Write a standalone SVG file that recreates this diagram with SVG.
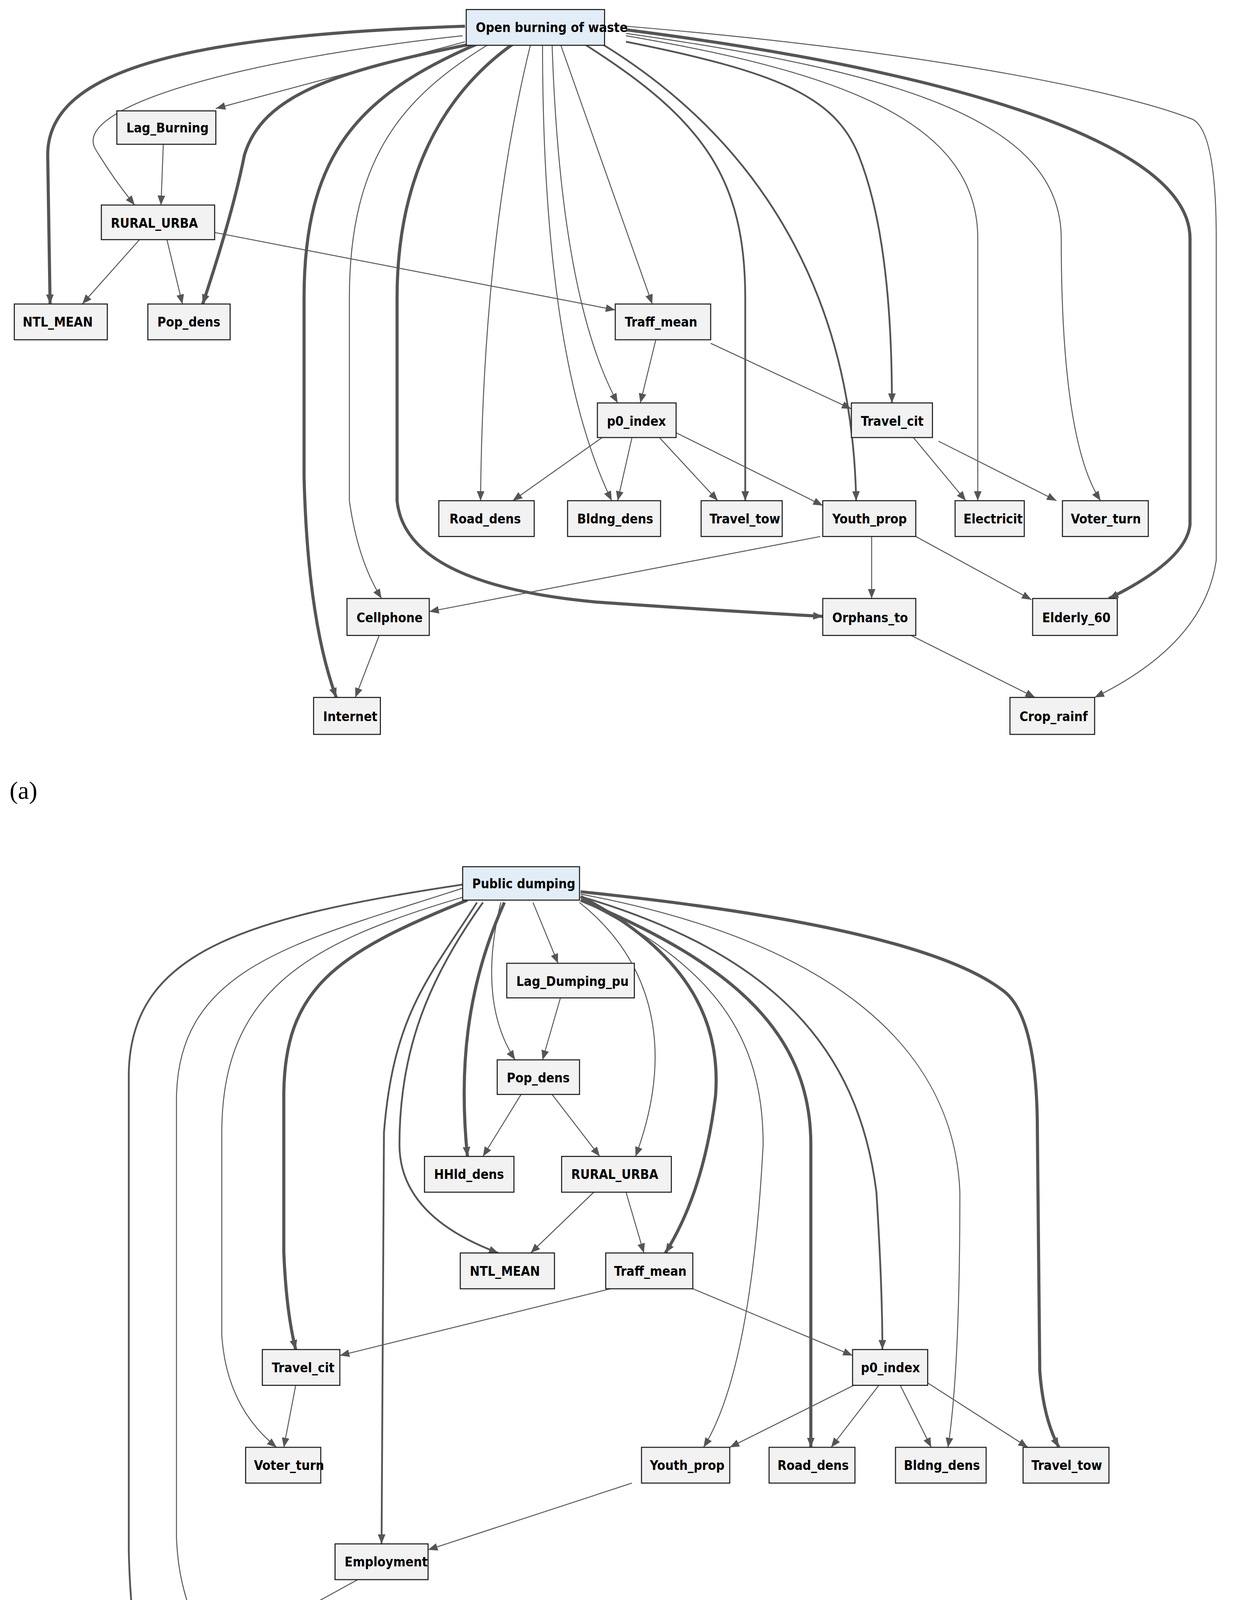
<svg xmlns="http://www.w3.org/2000/svg" width="3202" height="4779" viewBox="0 0 3202 4779">
<style>
.n rect{fill:#f2f2f2;stroke:#222;stroke-width:0.9}
.n.root rect{fill:#e2edf8}
.n text{font-family:"DejaVu Sans Condensed","DejaVu Sans",sans-serif;font-weight:bold;font-size:11px;fill:#000}
#edges path{fill:none;stroke:#555;stroke-width:0.8;marker-end:url(#ah)}
#edges path.m{stroke-width:1.5}
#edges path.t{stroke-width:2.6}
.lab{font-family:"Liberation Serif",serif;font-size:21px;fill:#000}
</style>
<defs>
<marker id="ah" viewBox="0 0 10 10" refX="10" refY="5" markerWidth="8" markerHeight="8" markerUnits="userSpaceOnUse" orient="auto"><path d="M0,1 L10,5 L0,9 z" fill="#555"/></marker>
</defs>
<rect width="3202" height="4779" fill="#fff"/>
<g transform="scale(3.052)">
<g id="edges">
<!-- (a) -->
<path class="t" d="M390,22 C150,30 40,60 40,130 L42,255"/>
<path d="M388,30 C200,50 60,90 80,125 Q95,150 113,172"/>
<path d="M390,35 L181,91"/>
<path class="t" d="M395,37 C280,60 220,80 205,130 Q195,180 170,255"/>
<path class="t" d="M400,37 C300,80 255,130 255,250 L255,400 Q258,520 282,585"/>
<path d="M410,37 C340,80 293,130 293,250 L293,420 Q300,470 320,502"/>
<path class="t" d="M430,37 C370,80 333,150 333,250 L333,420 Q340,490 500,505 Q600,512 690,517"/>
<path d="M445,37 Q405,200 403,420"/>
<path d="M455,37 Q455,300 513,420"/>
<path d="M463,37 Q470,250 518,338"/>
<path d="M470,37 Q510,150 547,255"/>
<path class="m" d="M490,37 C590,100 625,150 625,250 L625,420"/>
<path class="m" d="M505,37 C640,120 715,250 718,420"/>
<path class="m" d="M525,35 C650,60 700,80 720,130 Q748,200 748,338"/>
<path d="M525,30 C700,60 820,100 820,200 L820,420"/>
<path d="M525,28 C750,60 890,100 890,200 Q890,370 923,420"/>
<path class="t" d="M525,25 C800,60 998,120 998,200 L998,440 Q995,470 930,502"/>
<path d="M525,22 C800,45 950,80 1000,100 Q1020,110 1020,200 L1020,470 Q1010,540 918,585"/>
<path d="M137,120 L135,172"/>
<path d="M117,201 L69,255"/>
<path d="M140,201 L153,255"/>
<path d="M180,195 L516,260"/>
<path d="M550,285 L537,338"/>
<path d="M596,288 L714,343"/>
<path d="M505,367 L430,420"/>
<path d="M530,367 L518,420"/>
<path d="M553,367 L602,420"/>
<path d="M567,363 L690,424"/>
<path d="M766,367 L810,420"/>
<path d="M787,370 L886,420"/>
<path d="M688,450 L360,513"/>
<path d="M731,450 L731,502"/>
<path d="M768,450 L865,503"/>
<path d="M318,533 L298,585"/>
<path d="M764,533 L868,585"/>
<!-- (b) -->
<path class="m" d="M388,742 C200,770 110,800 108,900 L108,1300 Q110,1400 135,1458"/>
<path d="M388,745 C250,790 150,810 148,920 L148,1290 Q150,1340 172,1376"/>
<path d="M390,752 C260,790 186,830 186,950 L186,1120 Q190,1180 232,1214"/>
<path class="t" d="M392,755 C280,800 238,830 238,920 L238,1050 Q240,1100 248,1132"/>
<path class="m" d="M405,757 C360,820 335,880 335,960 Q335,1020 418,1051"/>
<path class="m" d="M400,757 C360,820 330,850 322,950 L320,1295"/>
<path class="t" d="M423,757 C390,830 385,900 392,970"/>
<path d="M420,757 Q400,840 432,889"/>
<path d="M447,757 L468,808"/>
<path d="M486,757 C540,800 570,870 533,970"/>
<path class="t" d="M487,752 C580,800 605,860 600,920 Q590,1000 558,1051"/>
<path d="M487,755 C600,810 640,870 640,960 Q630,1150 590,1214"/>
<path class="t" d="M487,755 C620,810 680,870 680,960 L680,1214"/>
<path class="m" d="M487,752 C650,800 720,880 735,1000 Q740,1080 740,1132"/>
<path d="M487,750 C700,790 800,880 805,1000 Q805,1150 795,1214"/>
<path class="t" d="M487,748 C700,770 800,800 840,830 Q870,850 870,950 L872,1150 Q875,1190 888,1214"/>
<path d="M470,837 L455,889"/>
<path d="M437,918 L405,970"/>
<path d="M463,918 L503,970"/>
<path d="M498,1000 L445,1051"/>
<path d="M525,1000 L540,1051"/>
<path d="M512,1081 L285,1137"/>
<path d="M581,1081 L715,1137"/>
<path d="M248,1162 L238,1214"/>
<path d="M720,1160 L612,1214"/>
<path d="M737,1162 L697,1214"/>
<path d="M755,1162 L781,1214"/>
<path d="M778,1160 L862,1214"/>
<path d="M530,1244 L359,1300"/>
<path d="M300,1325 L207,1376"/>
<path d="M170,1407 L150,1458"/>
</g>
<!-- (a) nodes -->
<g id="a_root" class="n root"><rect x="391" y="8" width="116" height="30"/><text x="399" y="27">Open burning of waste</text></g>
<g id="a_lag" class="n"><rect x="98" y="93" width="83" height="28"/><text x="106" y="111">Lag_Burning</text></g>
<g id="a_rural" class="n"><rect x="85" y="172" width="95" height="29"/><text x="93" y="191">RURAL_URBA</text></g>
<g id="a_ntl" class="n"><rect x="12" y="255" width="78" height="30"/><text x="19" y="274">NTL_MEAN</text></g>
<g id="a_pop" class="n"><rect x="124" y="255" width="69" height="30"/><text x="132" y="274">Pop_dens</text></g>
<g id="a_traff" class="n"><rect x="516" y="255" width="80" height="30"/><text x="524" y="274">Traff_mean</text></g>
<g id="a_p0" class="n"><rect x="501" y="338" width="66" height="29"/><text x="509" y="357">p0_index</text></g>
<g id="a_tcit" class="n"><rect x="714" y="338" width="68" height="29"/><text x="722" y="357">Travel_cit</text></g>
<g id="a_road" class="n"><rect x="368" y="420" width="80" height="30"/><text x="377" y="439">Road_dens</text></g>
<g id="a_bldng" class="n"><rect x="476" y="420" width="78" height="30"/><text x="484" y="439">Bldng_dens</text></g>
<g id="a_ttow" class="n"><rect x="588" y="420" width="68" height="30"/><text x="595" y="439">Travel_tow</text></g>
<g id="a_youth" class="n"><rect x="690" y="420" width="78" height="30"/><text x="698" y="439">Youth_prop</text></g>
<g id="a_elec" class="n"><rect x="801" y="420" width="58" height="30"/><text x="808" y="439">Electricit</text></g>
<g id="a_voter" class="n"><rect x="891" y="420" width="72" height="30"/><text x="898" y="439">Voter_turn</text></g>
<g id="a_cell" class="n"><rect x="291" y="502" width="69" height="31"/><text x="299" y="522">Cellphone</text></g>
<g id="a_orph" class="n"><rect x="690" y="502" width="78" height="31"/><text x="698" y="522">Orphans_to</text></g>
<g id="a_eld" class="n"><rect x="866" y="502" width="71" height="31"/><text x="874" y="522">Elderly_60</text></g>
<g id="a_inet" class="n"><rect x="263" y="585" width="56" height="31"/><text x="271" y="605">Internet</text></g>
<g id="a_crop" class="n"><rect x="847" y="585" width="71" height="31"/><text x="855" y="605">Crop_rainf</text></g>
<!-- (b) nodes -->
<g id="b_root" class="n root"><rect x="388" y="727" width="98" height="28"/><text x="396" y="745">Public dumping</text></g>
<g id="b_lag" class="n"><rect x="425" y="808" width="107" height="29"/><text x="433" y="827">Lag_Dumping_pu</text></g>
<g id="b_pop" class="n"><rect x="417" y="889" width="69" height="29"/><text x="425" y="908">Pop_dens</text></g>
<g id="b_hhld" class="n"><rect x="356" y="970" width="75" height="30"/><text x="364" y="989">HHld_dens</text></g>
<g id="b_rural" class="n"><rect x="471" y="970" width="92" height="30"/><text x="479" y="989">RURAL_URBA</text></g>
<g id="b_ntl" class="n"><rect x="386" y="1051" width="79" height="30"/><text x="394" y="1070">NTL_MEAN</text></g>
<g id="b_traff" class="n"><rect x="508" y="1051" width="73" height="30"/><text x="515" y="1070">Traff_mean</text></g>
<g id="b_tcit" class="n"><rect x="220" y="1132" width="65" height="30"/><text x="228" y="1151">Travel_cit</text></g>
<g id="b_p0" class="n"><rect x="715" y="1132" width="63" height="30"/><text x="722" y="1151">p0_index</text></g>
<g id="b_voter" class="n"><rect x="206" y="1214" width="63" height="30"/><text x="213" y="1233">Voter_turn</text></g>
<g id="b_youth" class="n"><rect x="538" y="1214" width="74" height="30"/><text x="545" y="1233">Youth_prop</text></g>
<g id="b_road" class="n"><rect x="645" y="1214" width="72" height="30"/><text x="652" y="1233">Road_dens</text></g>
<g id="b_bldng" class="n"><rect x="751" y="1214" width="76" height="30"/><text x="758" y="1233">Bldng_dens</text></g>
<g id="b_ttow" class="n"><rect x="858" y="1214" width="72" height="30"/><text x="865" y="1233">Travel_tow</text></g>
<g id="b_emp" class="n"><rect x="281" y="1295" width="78" height="30"/><text x="289" y="1314">Employment</text></g>
<g id="b_cell" class="n"><rect x="147" y="1376" width="63" height="31"/><text x="154" y="1396">Cellphone</text></g>
<g id="b_inet" class="n"><rect x="115" y="1458" width="55" height="30"/><text x="122" y="1478">Internet</text></g>
<text class="lab" x="8" y="670">(a)</text>
<text class="lab" x="8" y="1550">(b)</text>
</g>
</svg>
